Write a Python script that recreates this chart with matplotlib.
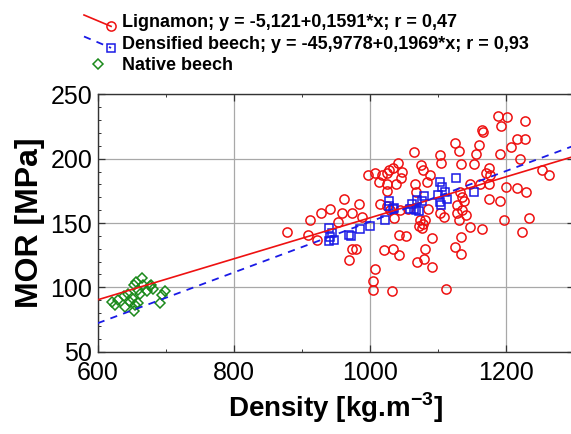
import matplotlib
matplotlib.use("Agg")
import matplotlib.pyplot as plt
from matplotlib.legend_handler import HandlerLine2D
from matplotlib.ticker import MultipleLocator
import numpy as np

plt.rcParams['font.family'] = ['Liberation Sans', 'DejaVu Sans']
plt.rcParams['mathtext.fontset'] = 'custom'
plt.rcParams['mathtext.rm'] = 'Liberation Sans'
plt.rcParams['mathtext.bf'] = 'Liberation Sans:bold'

# Lignamon samples: density [kg/m3], MOR [MPa]
lignamon_density = [878, 909, 912, 922, 928, 942, 954, 959, 962, 969, 974, 974, 980, 985,
                    989, 998, 1005, 1005, 1008, 1008, 1013, 1015, 1018, 1021, 1025, 1025,
                    1026, 1029, 1033, 1034, 1035, 1036, 1039, 1041, 1043, 1043, 1046, 1047,
                    1054, 1045, 1056, 1065, 1067, 1068, 1070, 1073, 1074, 1075, 1077, 1079,
                    1079, 1080, 1082, 1082, 1084, 1086, 1089, 1091, 1091, 1103, 1104, 1105,
                    1109, 1112, 1126, 1126, 1129, 1129, 1131, 1132, 1133, 1134, 1135, 1135,
                    1136, 1136, 1138, 1142, 1147, 1148, 1153, 1157, 1161, 1162, 1165, 1166,
                    1165, 1171, 1175, 1175, 1176, 1177, 1188, 1192, 1192, 1193, 1198, 1200,
                    1202, 1208, 1216, 1216, 1221, 1224, 1228, 1229, 1230, 1235, 1253, 1263,
                    1030, 1025]
lignamon_mor = [143, 141, 152, 137, 158, 161, 151, 158, 169, 121, 158, 130, 130, 165,
                155, 187, 105, 98, 114, 189, 182, 165, 187, 129, 189, 175,
                180, 191, 97, 130, 193, 154, 180, 197, 125, 141, 185, 190,
                140, 160, 161, 205, 180, 174, 120, 148, 152, 195, 146, 191,
                149, 122, 152, 130, 182, 161, 187, 138, 116, 203, 158, 197,
                155, 99, 212, 131, 164, 158, 206, 152, 174, 139, 196, 126,
                170, 160, 167, 156, 147, 180, 196, 204, 211, 180, 222, 221,
                145, 189, 193, 180, 169, 187, 233, 204, 167, 225, 152, 178,
                232, 209, 215, 177, 200, 143, 215, 229, 174, 154, 191, 187,
                160, 163]

# Densified beech samples
densified_density = [940, 940, 945, 948, 942, 969, 973, 986, 1001, 1022, 1028, 1029, 1035,
                     1036, 1060, 1062, 1065, 1068, 1069, 1073, 1077, 1080, 1101, 1103,
                     1105, 1104, 1106, 1111, 1114, 1127, 1153]
densified_mor = [146, 136, 142, 137, 139, 141, 140, 145, 148, 152, 167, 163, 161,
                 162, 161, 165, 161, 160, 168, 159, 167, 171, 172, 166,
                 164, 182, 178, 174, 169, 185, 174]

# Native beech samples
native_density = [621, 626, 630, 638, 640, 645, 648, 650, 653, 655, 653, 657, 660, 662,
                  660, 665, 667, 672, 677, 679, 682, 692, 694, 699]
native_mor = [89, 86, 90, 93, 85, 95, 89, 92, 102, 86, 82, 104, 98, 95,
              88, 107, 102, 97, 101, 102, 99, 88, 94, 97]

# Linear regressions (intercept, slope)
lignamon_fit = (-5.121, 0.1591)
densified_fit = (-45.9778, 0.1969)

labels = ["Lignamon; y = -5,121+0,1591*x; r = 0,47",
          "Densified beech; y = -45,9778+0,1969*x; r = 0,93",
          "Native beech"]

RED = "#ee1111"
BLUE = "#1a1ae6"
GREEN = "#1b8a1b"

fig = plt.figure(figsize=(5.71, 4.34), dpi=100)
ax = fig.add_axes([0.1711, 0.1896, 0.8336, 0.5931])

xmin, xmax = 600, 1300
xs = np.array([xmin, xmax])

mk = dict(linestyle='none', markerfacecolor='none', markeredgewidth=1.1)
ax.plot(lignamon_density, lignamon_mor, marker='o', markersize=6.6,
        markeredgecolor=RED, **mk, zorder=3)
ax.plot(densified_density, densified_mor, marker='s', markersize=6.0,
        markeredgecolor=BLUE, **mk, zorder=4)
ax.plot(native_density, native_mor, marker='D', markersize=4.8,
        markeredgecolor=GREEN, **mk, zorder=4)

ax.plot(xs, lignamon_fit[0] + lignamon_fit[1] * xs, color=RED, lw=1.2, zorder=5)
ax.plot(xs, densified_fit[0] + densified_fit[1] * xs, color=BLUE, lw=1.3,
        dashes=(4, 3.5), zorder=5)

ax.set_xlim(xmin, xmax)
ax.set_ylim(50, 250)
ax.xaxis.set_major_locator(MultipleLocator(200))
ax.xaxis.set_minor_locator(MultipleLocator(100))
ax.yaxis.set_major_locator(MultipleLocator(50))
ax.yaxis.set_minor_locator(MultipleLocator(10))
ax.grid(True, which='major', color='#a8a8a8', lw=0.9)
ax.set_axisbelow(True)
ax.tick_params(which='both', direction='in', top=True, right=True,
               labelsize=18, colors='#333333', labelcolor='black')
ax.tick_params(which='major', length=5, width=0.9, pad=4)
ax.tick_params(axis='x', which='major', pad=7)
ax.tick_params(which='minor', length=2.5, width=0.7)
for s in ax.spines.values():
    s.set_color('#333333')
    s.set_linewidth(1.0)

ax.set_xlabel("Density [kg.m$^{\\mathbf{-3}}$]", fontsize=20, fontweight='bold', labelpad=4)
ax.set_ylabel("MOR [MPa]", fontsize=23, fontweight='bold', labelpad=4)


class SlopedHandler(HandlerLine2D):
    def create_artists(self, legend, orig_handle, xdescent, ydescent,
                       width, height, fontsize, trans):
        artists = super().create_artists(legend, orig_handle, xdescent, ydescent,
                                         width, height, fontsize, trans)
        line = artists[0]
        xd = line.get_xdata()
        yc = height / 2.0 - ydescent
        line.set_xdata([xd[0], xd[-1]])
        line.set_ydata([yc + 0.45 * height, yc - 0.45 * height])
        return artists


h1, = ax.plot([], [], color=RED, lw=1.2, marker='o', markersize=6.6,
              markerfacecolor='none', markeredgecolor=RED, markeredgewidth=1.1)
h2, = ax.plot([], [], color=BLUE, lw=1.3, dashes=(4, 3.5), marker='s', markersize=6.0,
              markerfacecolor='none', markeredgecolor=BLUE, markeredgewidth=1.1)
h3, = ax.plot([], [], linestyle='none', marker='D', markersize=4.8,
              markerfacecolor='none', markeredgecolor=GREEN, markeredgewidth=1.1)

leg = fig.legend([h1, h2, h3], labels, loc='upper left',
                 bbox_to_anchor=(84 / 571, 1 - 14 / 434),
                 frameon=False, handlelength=1.5, handletextpad=0.6,
                 labelspacing=0.25, borderpad=0, borderaxespad=0,
                 prop=dict(weight='bold', size=13),
                 handler_map={h1: SlopedHandler(), h2: SlopedHandler()})

fig.savefig("out.png", dpi=100)
